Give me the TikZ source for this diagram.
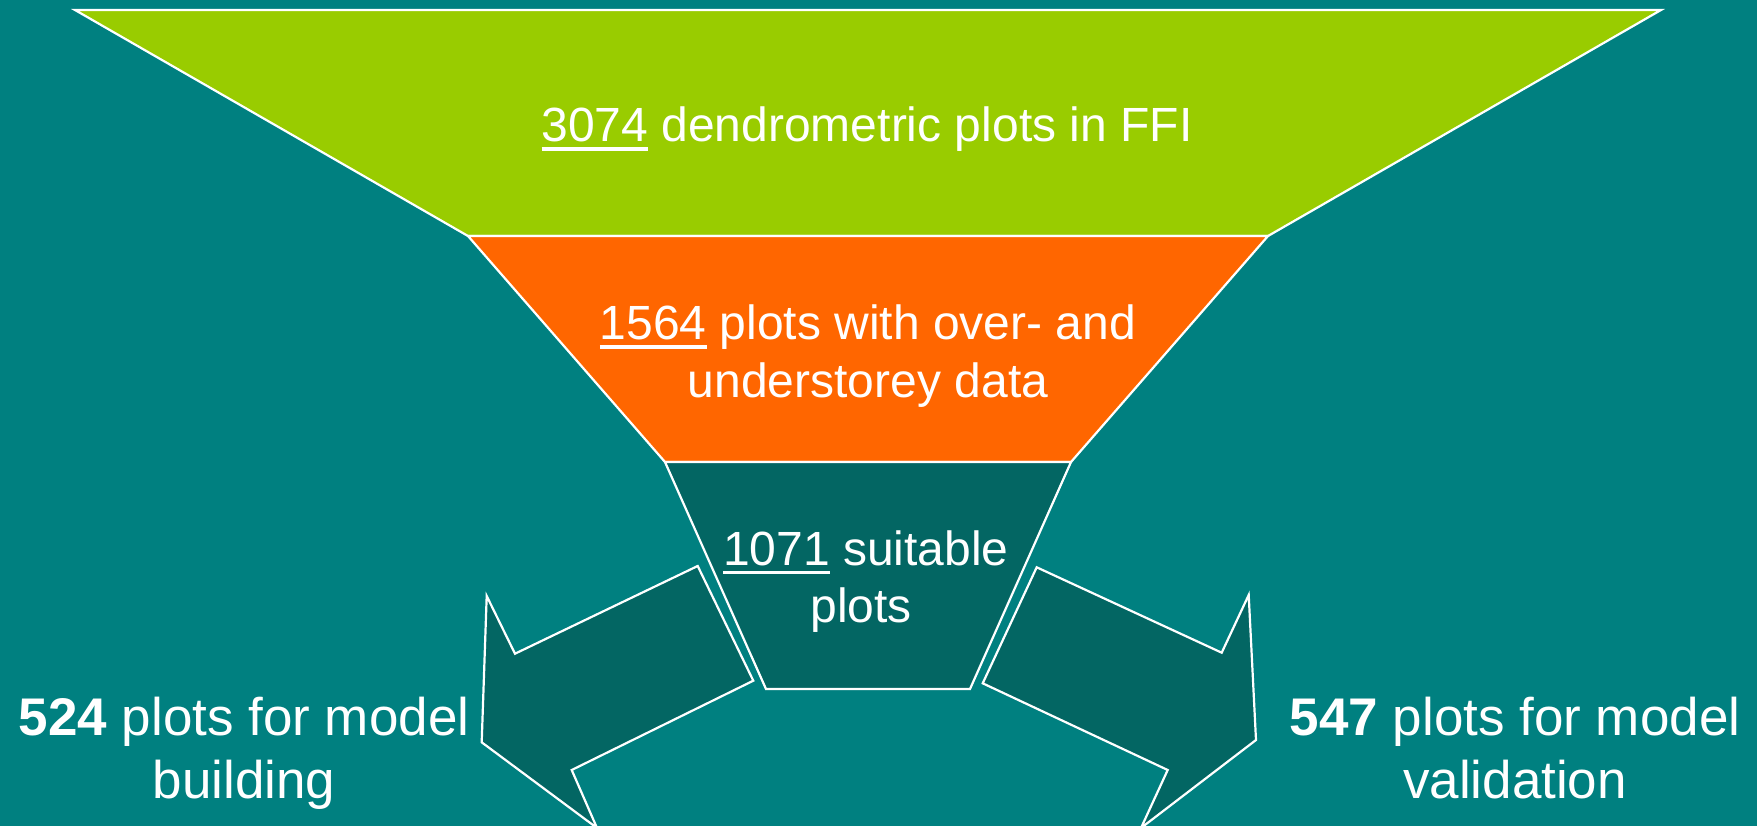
\documentclass[tikz,border=0pt]{standalone}
\usepackage{fontspec}
\setmainfont{Liberation Sans}
\definecolor{bgteal}{HTML}{008080}
\definecolor{fgreen}{HTML}{99CC00}
\definecolor{forange}{HTML}{FF6600}
\definecolor{fdark}{HTML}{036663}
\newcommand{\ulnum}[1]{\setbox0\hbox{#1}\rlap{\rule[-9pt]{\wd0}{3.5pt}}\box0\relax}
\newcommand{\funnelfont}{\fontsize{48}{57}\selectfont}
\newcommand{\sidefont}{\fontsize{53}{64}\selectfont}
\begin{document}
\begin{tikzpicture}[x=1pt,y=-1pt,
  shapebox/.style={draw=white, line width=2.2pt, line join=miter},
  lbl/.style={text=white, anchor=base, inner sep=0pt, outer sep=0pt}]
\useasboundingbox (0,0) rectangle (1757,826);
\fill[bgteal] (0,0) rectangle (1757,826);
% funnel
\draw[shapebox, fill=fgreen] (75,10) -- (1661,10) -- (1268,236) -- (468,236) -- cycle;
\draw[shapebox, fill=forange] (468,236) -- (1268,236) -- (1071,462) -- (665,462) -- cycle;
\draw[shapebox, fill=fdark] (665,462) -- (1071,462) -- (970,689) -- (766,689) -- cycle;
% arrows
\draw[shapebox, fill=fdark] (697.7,566) -- (515,653.7) -- (486.7,596) -- (481.7,742.3) -- (597,828) -- (571.7,770) -- (753.3,680.7) -- cycle;
\draw[shapebox, fill=fdark] (1036.7,567.3) -- (1221.7,652.7) -- (1248.7,595) -- (1256,740) -- (1141,828) -- (1167.7,770) -- (982.7,683.3) -- cycle;
% texts
\node[lbl, font=\funnelfont] (t1) at (867,142) {\ulnum{3074} dendrometric plots in FFI};
\node[lbl, font=\funnelfont] (t2a) at (868,340) {\ulnum{1564} plots with over- and};
\node[lbl, font=\funnelfont] (t2b) at (868,398) {understorey data};
\node[lbl, font=\funnelfont] (t3a) at (866,565) {\ulnum{1071} suitable};
\node[lbl, font=\funnelfont] (t3b) at (861,622) {plots};
\node[lbl, font=\sidefont] (l1) at (244,735) {\textbf{524} plots for model};
\node[lbl, font=\sidefont] (l2) at (244,798) {building};
\node[lbl, font=\sidefont] (r1) at (1515,735) {\textbf{547} plots for model};
\node[lbl, font=\sidefont] (r2) at (1515,798) {validation};
\end{tikzpicture}
\end{document}
